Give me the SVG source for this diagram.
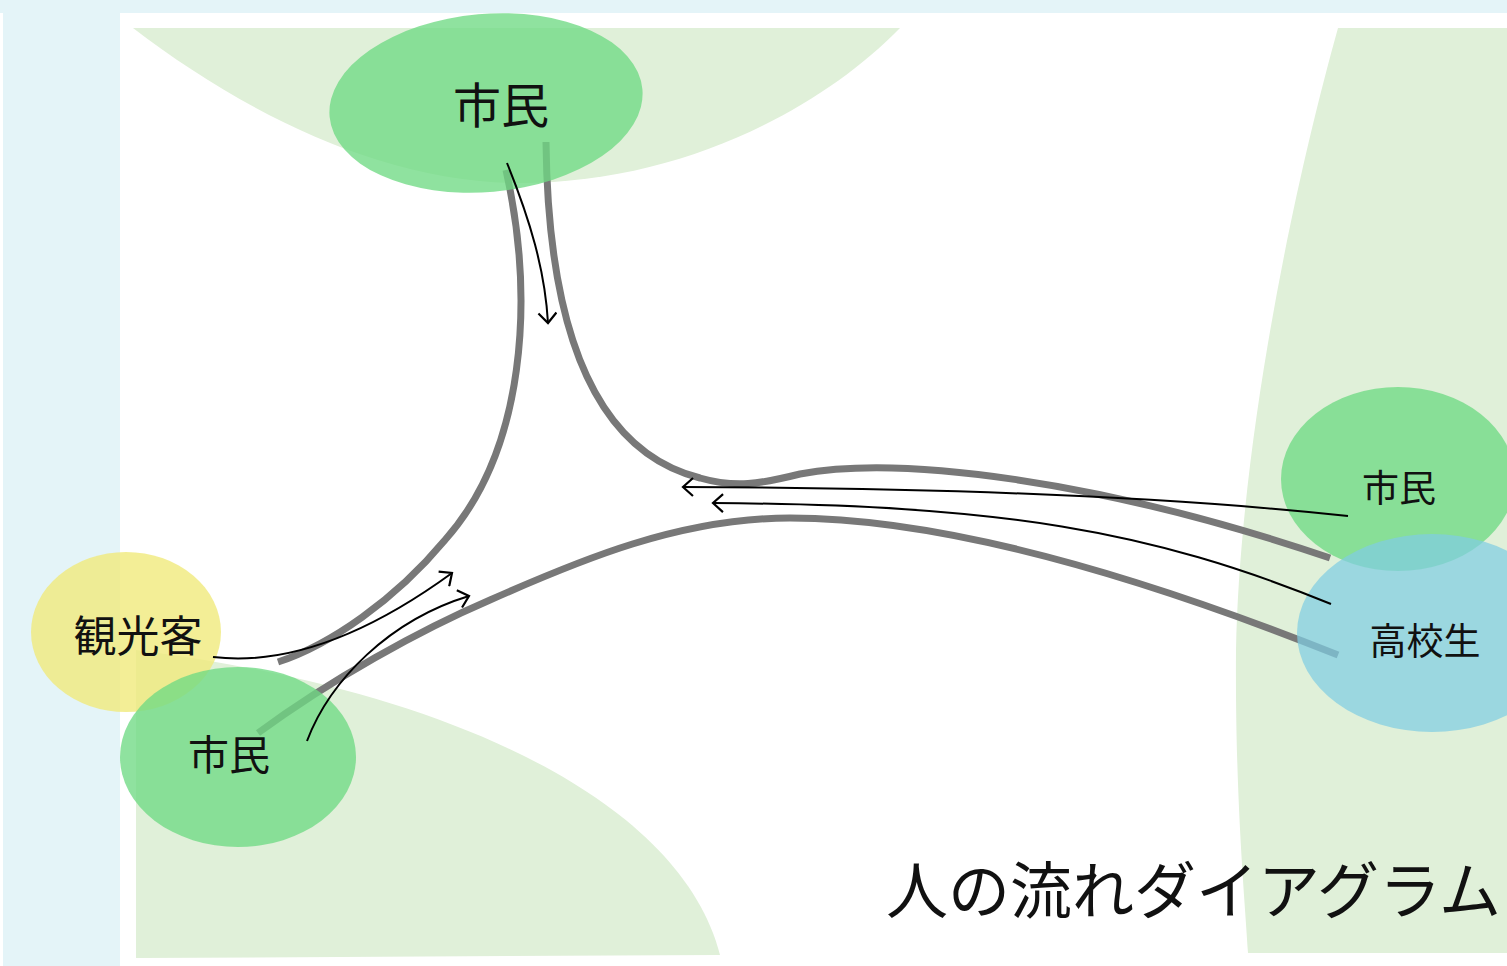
<svg xmlns="http://www.w3.org/2000/svg" width="1507" height="966" viewBox="0 0 1507 966">
<defs>
<marker id="arr" viewBox="-12 -10 14 20" refX="0" refY="0" markerWidth="14" markerHeight="20" markerUnits="userSpaceOnUse" orient="auto">
<path d="M-10,-9 L0,0 L-10,9" fill="none" stroke="#000" stroke-width="2.2"/>
</marker>
</defs>
<style>
.zone{fill:#e0f0d9}
.flow{fill:none;stroke:#787878;stroke-width:7}
.arrow{fill:none;stroke:#000;stroke-width:2;marker-end:url(#arr)}
.lbl{font-family:"Noto Sans CJK JP","Noto Sans",sans-serif;fill:#111;text-anchor:middle}
.green{fill:#70da84;fill-opacity:0.78}
</style>
<rect x="0" y="0" width="1507" height="966" fill="#ffffff"/>
<rect x="0" y="0" width="1507" height="13" fill="#e4f4f8"/>
<rect x="3" y="13" width="117" height="953" fill="#e4f4f8"/>
<g id="zones">
<path class="zone" d="M133,28 L900,28 C820,110 680,183 520,183 C380,183 240,110 133,28 Z"/>
<path class="zone" d="M136,650 C450,690 680,800 720,955 L136,958 Z"/>
<path class="zone" d="M1338,28 L1507,28 L1507,953 L1248,953 C1245,900 1235,800 1236,650 C1240,450 1290,200 1338,28 Z"/>
</g>
<g id="flows">
<path class="flow" d="M506,170 C535,300 525,450 445,540 C395,600 330,645 278,662"/>
<path class="flow" d="M546,142 C548,320 590,450 700,478 C735,488 760,484 800,474 C900,455 1100,480 1330,558"/>
<path class="flow" d="M258,733 C330,680 420,630 490,600 C580,560 680,518 790,518 C950,518 1150,580 1338,655"/>
</g>
<g id="node-top">
<ellipse class="green" cx="486" cy="103" rx="157" ry="89" transform="rotate(-5 486 103)"/>
<text class="lbl" x="501" y="123" font-size="48">市民</text>
</g>
<g id="node-tourist">
<ellipse cx="126" cy="632" rx="95" ry="80" fill="#f0ea7c" fill-opacity="0.8"/>
<text class="lbl" x="138" y="652" font-size="43">観光客</text>
</g>
<g id="node-bottom">
<ellipse class="green" cx="238" cy="757" rx="118" ry="90"/>
<text class="lbl" x="229" y="770" font-size="41">市民</text>
</g>
<g id="node-right">
<ellipse class="green" cx="1398" cy="479" rx="117" ry="92"/>
<text class="lbl" x="1399" y="502" font-size="37">市民</text>
</g>
<g id="node-student">
<ellipse cx="1432" cy="633" rx="135" ry="99" fill="#80cde2" fill-opacity="0.72"/>
<text class="lbl" x="1425" y="655" font-size="37">高校生</text>
</g>
<g id="arrows">
<path class="arrow" d="M507,163 C530,220 545,270 548,323"/>
<path class="arrow" d="M213,657 C280,665 360,640 452,573"/>
<path class="arrow" d="M307,741 C330,680 390,620 469,596"/>
<path class="arrow" d="M1348,516 C1200,500 1000,488 683,487"/>
<path class="arrow" d="M1331,604 C1150,530 1000,505 713,503"/>
</g>
<text x="886" y="914" font-size="62" font-family="'Noto Sans CJK JP','Noto Sans',sans-serif" fill="#111">人の流れダイアグラム</text>
</svg>
